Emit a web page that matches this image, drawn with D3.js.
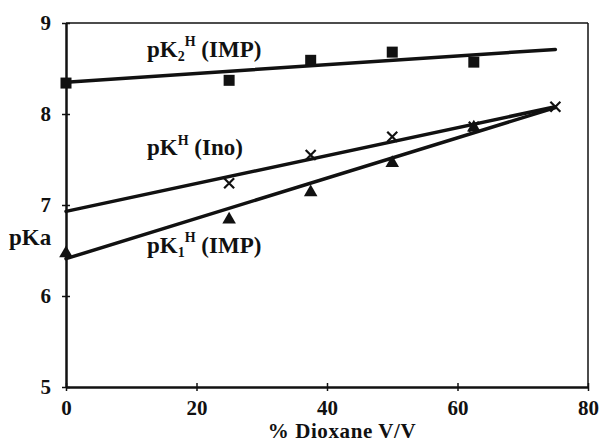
<!DOCTYPE html>
<html>
<head>
<meta charset="utf-8">
<script src="https://cdn.jsdelivr.net/npm/d3@7"></script>
<style>
  body { margin: 0; background: #fff; }
  svg text { font-family: "Liberation Serif", "DejaVu Serif", serif; font-weight: bold; fill: #111; }
</style>
</head>
<body>
<svg id="chart" width="600" height="442"></svg>
<script>
// % dioxane (v/v) and measured pKa values
const xTicks = [0, 20, 40, 60, 80];
const yTicks = [5, 6, 7, 8, 9];

const pK2X = [0, 25, 37.5, 50, 62.5];
const pK2Y = [8.34, 8.37, 8.59, 8.68, 8.57];

const inoX = [25, 37.5, 50, 62.5, 75];
const inoY = [7.24, 7.55, 7.75, 7.86, 8.08];

const pK1X = [0, 25, 37.5, 50, 62.5];
const pK1Y = [6.47, 6.84, 7.14, 7.46, 7.85];

// fitted straight lines, end points
const fitX = [0, 75];
const pK2Fit = [8.35, 8.71];
const inoFit = [6.93, 8.08];
const pK1Fit = [6.41, 8.07];

const margin = {top: 23, right: 12, bottom: 55, left: 66};
const width = 600, height = 442;

const svg = d3.select("#chart");

const x = d3.scaleLinear().domain([0, 80]).range([margin.left, width - margin.right]);
const y = d3.scaleLinear().domain([5, 9]).range([height - margin.bottom, margin.top]);

// frame: top and right thinner
svg.append("line")
    .attr("x1", x(0)).attr("x2", x(80)).attr("y1", y(9)).attr("y2", y(9))
    .attr("stroke", "#111").attr("stroke-width", 1.5);
svg.append("line")
    .attr("x1", x(80)).attr("x2", x(80)).attr("y1", y(9)).attr("y2", y(5))
    .attr("stroke", "#111").attr("stroke-width", 1.5);

const xAxis = svg.append("g")
    .attr("transform", `translate(0,${y(5)})`)
    .call(d3.axisBottom(x).tickValues(xTicks).tickFormat(d3.format("d"))
        .tickSize(4).tickPadding(9).tickSizeOuter(0));
xAxis.select(".domain").attr("stroke", "#111").attr("stroke-width", 2.5);
xAxis.selectAll(".tick line").attr("y1", -4).attr("stroke", "#111").attr("stroke-width", 1.5);
xAxis.selectAll(".tick text").attr("font-size", 21).attr("fill", "#111");

const yAxis = svg.append("g")
    .attr("transform", `translate(${x(0)},0)`)
    .call(d3.axisLeft(y).tickValues(yTicks).tickFormat(d3.format("d"))
        .tickSize(4).tickPadding(11).tickSizeOuter(0));
yAxis.select(".domain").attr("stroke", "#111").attr("stroke-width", 2.5);
yAxis.selectAll(".tick line").attr("x1", 4).attr("x2", -4).attr("stroke", "#111").attr("stroke-width", 1.5);
yAxis.selectAll(".tick text").attr("font-size", 21).attr("fill", "#111");

// fitted lines
const line = d3.line().x(d => x(d[0])).y(d => y(d[1]));
[pK2Fit, inoFit, pK1Fit].forEach(fit => {
    svg.append("path")
        .datum(fitX.map((v, i) => [v, fit[i]]))
        .attr("fill", "none")
        .attr("stroke", "#111")
        .attr("stroke-width", 3.5)
        .attr("stroke-linecap", "round")
        .attr("d", line);
});

// squares
svg.append("g").selectAll("rect")
    .data(pK2X.map((v, i) => [v, pK2Y[i]]))
    .join("rect")
    .attr("x", d => x(d[0]) - 5.5)
    .attr("y", d => y(d[1]) - 5.5)
    .attr("width", 11).attr("height", 11)
    .attr("fill", "#111");

// crosses
svg.append("g").selectAll("path")
    .data(inoX.map((v, i) => [v, inoY[i]]))
    .join("path")
    .attr("transform", d => `translate(${x(d[0])},${y(d[1])})`)
    .attr("d", "M-5,-5L5,5M-5,5L5,-5")
    .attr("stroke", "#111").attr("stroke-width", 2.2).attr("fill", "none");

// triangles
svg.append("g").selectAll("path")
    .data(pK1X.map((v, i) => [v, pK1Y[i]]))
    .join("path")
    .attr("transform", d => `translate(${x(d[0])},${y(d[1])})`)
    .attr("d", d3.symbol(d3.symbolTriangle, 80))
    .attr("fill", "#111");

// series labels
function seriesLabel(px, py, sub, tail) {
    const t = svg.append("text")
        .attr("x", px).attr("y", py)
        .attr("font-size", 23);
    t.append("tspan").text("pK");
    if (sub) t.append("tspan").attr("font-size", 14).attr("dy", 4).text(sub);
    t.append("tspan").attr("font-size", 14).attr("dy", sub ? -15 : -10).text("H");
    t.append("tspan").attr("dy", sub ? 11 : 10).text(" " + tail);
}
seriesLabel(147, 57, "2", "(IMP)");
seriesLabel(147, 155, null, "(Ino)");
seriesLabel(147, 253, "1", "(IMP)");

svg.append("text")
    .attr("x", 9).attr("y", 245)
    .attr("font-size", 23)
    .text("pKa");

svg.append("text")
    .attr("x", 342).attr("y", 438)
    .attr("text-anchor", "middle")
    .attr("font-size", 21)
    .attr("letter-spacing", 0.6)
    .text("% Dioxane V/V");
</script>
</body>
</html>
